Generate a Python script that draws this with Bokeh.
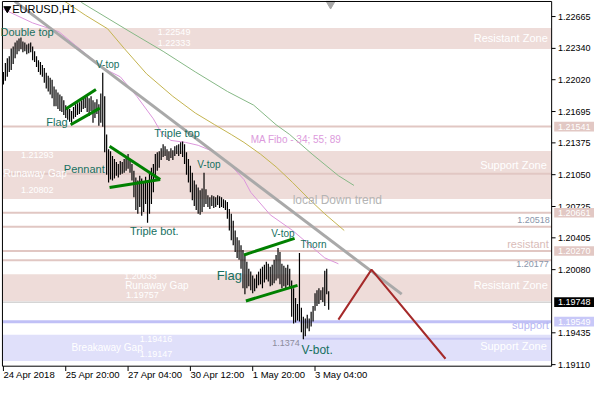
from bokeh.plotting import figure
from bokeh.models import Range1d, Label
from bokeh.core.properties import value
from bokeh.embed import file_html
from bokeh.resources import INLINE

# ---------------- data ----------------
highs = [1.2210, 1.2219, 1.2224, 1.2226, 1.2234, 1.2236, 1.2240, 1.2242, 1.2244, 1.2245,
         1.2241, 1.2240, 1.2238, 1.2239, 1.2240, 1.2236, 1.2231, 1.2226, 1.2222, 1.2220,
         1.2217, 1.2214, 1.2209, 1.2206, 1.2204, 1.2202, 1.2195, 1.2192, 1.2189, 1.2187,
         1.2185, 1.2181, 1.2176, 1.2174, 1.2172, 1.2170, 1.2174, 1.2177, 1.2178, 1.2179,
         1.2181, 1.2183, 1.2184, 1.2185, 1.2183, 1.2185, 1.2181, 1.2179, 1.2182, 1.2177,
         1.2188, 1.2209, 1.2185, 1.2146, 1.2131, 1.2129, 1.2124, 1.2121, 1.2118, 1.2116,
         1.2119, 1.2118, 1.2121, 1.2124, 1.2126, 1.2121, 1.2116, 1.2109, 1.2102, 1.2099,
         1.2104, 1.2101, 1.2097, 1.2103, 1.2099, 1.2107, 1.2112, 1.2116, 1.2126, 1.2128,
         1.2129, 1.2132, 1.2136, 1.2134, 1.2131, 1.2129, 1.2132, 1.2130, 1.2134, 1.2135,
         1.2136, 1.2138, 1.2139, 1.2136, 1.2128, 1.2121, 1.2114, 1.2107, 1.2099, 1.2095,
         1.2092, 1.2089, 1.2091, 1.2107, 1.2090, 1.2084, 1.2082, 1.2084, 1.2083, 1.2082,
         1.2084, 1.2083, 1.2082, 1.2080, 1.2079, 1.2077, 1.2070, 1.2065, 1.2058, 1.2048,
         1.2041, 1.2038, 1.2033, 1.2028, 1.2023, 1.2016, 1.2009, 1.2006, 1.2002, 1.1999,
         1.2003, 1.2006, 1.2009, 1.2011, 1.2013, 1.2016, 1.2014, 1.2011, 1.2013, 1.2018,
         1.2023, 1.2030, 1.2026, 1.2014, 1.2012, 1.2010, 1.2013, 1.2009, 1.1997, 1.1989,
         1.1979, 1.1973, 1.2025, 1.1969, 1.1960, 1.1958, 1.1962, 1.1958, 1.1965, 1.1971,
         1.1984, 1.1987, 1.1989, 1.1987, 1.1990, 1.2007, 1.2009, 1.1986]
lows = [1.2197, 1.2201, 1.2205, 1.2210, 1.2212, 1.2218, 1.2224, 1.2228, 1.2231, 1.2233,
        1.2230, 1.2231, 1.2228, 1.2229, 1.2230, 1.2222, 1.2220, 1.2215, 1.2210, 1.2207,
        1.2205, 1.2199, 1.2193, 1.2190, 1.2187, 1.2183, 1.2175, 1.2175, 1.2172, 1.2170,
        1.2169, 1.2166, 1.2163, 1.2161, 1.2159, 1.2158, 1.2162, 1.2164, 1.2166, 1.2167,
        1.2169, 1.2172, 1.2173, 1.2169, 1.2165, 1.2170, 1.2158, 1.2163, 1.2167, 1.2155,
        1.2158, 1.2154, 1.2128, 1.2105, 1.2097, 1.2100, 1.2099, 1.2101, 1.2104, 1.2102,
        1.2105, 1.2106, 1.2107, 1.2109, 1.2111, 1.2107, 1.2099, 1.2082, 1.2069, 1.2065,
        1.2072, 1.2063, 1.2067, 1.2075, 1.2056, 1.2065, 1.2075, 1.2087, 1.2101, 1.2109,
        1.2112, 1.2120, 1.2123, 1.2124, 1.2120, 1.2119, 1.2122, 1.2120, 1.2124, 1.2126,
        1.2124, 1.2126, 1.2123, 1.2116, 1.2105, 1.2097, 1.2087, 1.2079, 1.2073, 1.2069,
        1.2065, 1.2064, 1.2067, 1.2072, 1.2075, 1.2072, 1.2070, 1.2073, 1.2071, 1.2072,
        1.2074, 1.2071, 1.2072, 1.2071, 1.2069, 1.2060, 1.2048, 1.2038, 1.2033, 1.2026,
        1.2020, 1.2018, 1.2009, 1.1989, 1.1983, 1.1989, 1.1991, 1.1987, 1.1984, 1.1986,
        1.1989, 1.1992, 1.1993, 1.1989, 1.1995, 1.1998, 1.1996, 1.1991, 1.1992, 1.1994,
        1.1997, 1.1999, 1.1993, 1.1989, 1.1991, 1.1989, 1.1992, 1.1989, 1.1960, 1.1953,
        1.1954, 1.1956, 1.1955, 1.1944, 1.1937, 1.1940, 1.1948, 1.1945, 1.1950, 1.1955,
        1.1966, 1.1971, 1.1973, 1.1977, 1.1975, 1.1971, 1.1983, 1.1967]
bar_index = list(range(len(highs)))

time_tick_index = [0, 32, 64, 96, 128, 160]
time_tick_labels = ["24 Apr 2018", "25 Apr 20:00", "27 Apr 04:00",
                    "30 Apr 12:00", "1 May 20:00", "3 May 04:00"]
price_ticks = [1.22665, 1.22340, 1.22020, 1.21695, 1.21375, 1.21050,
               1.20725, 1.20405, 1.20080, 1.19435, 1.19110]

# moving averages (MA Fibo 34 / 55 / 89), read as points
ma34_x = [0, 15, 28.5, 37, 45, 51, 60, 68.5, 77, 81, 86, 93.5, 100, 108.5, 117, 123.5, 127, 137, 148.5, 165, 172]
ma34_y = [1.2274, 1.2260, 1.2251, 1.2237, 1.2224, 1.2214, 1.2205, 1.2185, 1.2162, 1.2148, 1.2140,
          1.2138, 1.2135, 1.2128, 1.2114, 1.2100, 1.2087, 1.2064, 1.2048, 1.2020, 1.2014]
ma55_x = [31.5, 42, 53.5, 62, 73.5, 87, 98.5, 108.5, 117, 123.5, 132, 140, 148.5, 157, 165, 175]
ma55_y = [1.2282, 1.2268, 1.2254, 1.2234, 1.2208, 1.2185, 1.2168, 1.2156, 1.2146, 1.2138,
          1.2126, 1.2113, 1.2097, 1.2080, 1.2065, 1.2048]
ma89_x = [40, 65, 82, 98.5, 115, 128.5, 140, 147, 158.5, 172, 180]
ma89_y = [1.2281, 1.2251, 1.2231, 1.2210, 1.2190, 1.2176, 1.2156, 1.2146, 1.2126, 1.2104, 1.2094]

trend_x = [5.9, 204.5]
trend_y = [1.2282, 1.1983]
proj_x = [172, 189, 227]
proj_y = [1.1957, 1.2008, 1.1917]

# pattern lines (flag, pennant, flag)
pat_x0 = [32, 34.5, 54.5, 54.5, 123.5, 124.5]
pat_y0 = [1.2172, 1.2156, 1.2134, 1.2092, 1.2023, 1.1976]
pat_x1 = [47.5, 49.5, 80.5, 80.5, 149.5, 151]
pat_y1 = [1.2192, 1.2173, 1.2100, 1.2100, 1.2040, 1.1992]

zone_bottom = [1.22333, 1.20802, 1.19757, 1.19147]
zone_top = [1.22549, 1.21293, 1.20033, 1.19416]
zone_kind = ["res", "res", "res", "sup"]

pink_levels = [1.21541, 1.21060, 1.20661, 1.20518, 1.20270, 1.20177]
support_level = 1.19549
current_price = 1.19748
vbot_level = 1.19374

box_prices = [1.21541, 1.20661, 1.20270, 1.19748, 1.19549]
box_colors = ["#e2c8c4", "#e2c8c4", "#e2c8c4", "black", "#c8c8f8"]

PINK_BAND = "#eedcd9"
PINK_LINE = "#e1c7c3"
LAV_BAND = "#e0e0fa"
LAV_LINE = "#c0c0f6"
TXT = "#17705f"
FONT = "Liberation Sans"
AXFONT = "9px"

# chart frame (in data units) and full canvas range
FL, FR = -0.5, 281.5
FT, FB = 1.22819, 1.19094
PX = 0.00009804  # price per screen pixel of the reference

p = figure(width=594, height=384, output_backend="svg", toolbar_location=None,
           x_range=Range1d(-1.5, 303.5), y_range=Range1d(1.18907, 1.22829),
           x_axis_location=None, y_axis_location=None,
           min_border_left=0, min_border_right=0, min_border_top=0, min_border_bottom=0)
p.grid.visible = False
p.outline_line_color = None
p.background_fill_color = "white"
p.border_fill_color = "white"

# zones
p.quad(left=[FL] * 4, right=[FR] * 4, bottom=zone_bottom, top=zone_top,
       fill_color=[PINK_BAND if k == "res" else LAV_BAND for k in zone_kind], line_color=None)

p.segment(x0=[FL] * len(pink_levels), y0=pink_levels, x1=[FR] * len(pink_levels), y1=pink_levels,
          line_color=PINK_LINE, line_width=2)
p.segment(x0=[FL], y0=[support_level], x1=[FR], y1=[support_level], line_color=LAV_LINE, line_width=3)
p.segment(x0=[154], y0=[vbot_level], x1=[FR], y1=[vbot_level], line_color="#c8c8f4", line_width=2)
p.segment(x0=[FL], y0=[current_price], x1=[FR], y1=[current_price], line_color="#c0c0c0", line_width=1)

# moving averages
p.line(ma89_x, ma89_y, line_color="#86b886", line_width=1)
p.line(ma55_x, ma55_y, line_color="#c4b450", line_width=1)
p.line(ma34_x, ma34_y, line_color="#dc96dc", line_width=1)

# trend line
p.line(trend_x, trend_y, line_color="#a9a9a9", line_width=3)

# bars
p.segment(x0=bar_index, y0=lows, x1=bar_index, y1=highs, line_color="black", line_width=1.2)

# patterns
p.segment(x0=pat_x0, y0=pat_y0, x1=pat_x1, y1=pat_y1, line_color="#008000", line_width=3)

# projection
p.line(proj_x, proj_y, line_color="#a52a2a", line_width=2)

# markers
p.scatter([2], [1.22745], marker="inverted_triangle", size=7, fill_color="black", line_color="black")
p.scatter([168], [1.22795], marker="inverted_triangle", size=9, fill_color="#a8a8a8", line_color="#a8a8a8")

# frame
p.line([FL, FR, FR, FL, FL], [FT, FT, FB, FB, FT], line_color="black", line_width=1)

# price axis (right)
p.segment(x0=[FR] * len(price_ticks), y0=price_ticks, x1=[FR + 2] * len(price_ticks), y1=price_ticks,
          line_color="black", line_width=1)
p.text(x=[FR + 3.3] * len(price_ticks), y=price_ticks, text=["%.5f" % v for v in price_ticks],
       text_font=value(FONT), text_font_size=AXFONT, text_color="black", text_baseline="middle")

# price boxes
half = 5 * PX
p.quad(left=[FR + 1.3] * len(box_prices), right=[303.5] * len(box_prices),
       bottom=[v - half for v in box_prices], top=[v + half for v in box_prices],
       fill_color=box_colors, line_color=None)
p.text(x=[FR + 3.3] * len(box_prices), y=box_prices, text=["%.5f" % v for v in box_prices],
       text_font=value(FONT), text_font_size=AXFONT, text_color="white", text_baseline="middle")

# time axis (bottom)
p.segment(x0=time_tick_index, y0=[FB] * len(time_tick_index), x1=time_tick_index,
          y1=[FB - 5 * PX] * len(time_tick_index), line_color="black", line_width=1)
p.text(x=time_tick_index, y=[FB - 9 * PX] * len(time_tick_index), text=time_tick_labels,
       text_font=value(FONT), text_font_size="9.5px", text_color="black", text_baseline="middle")


def lab(x, y, text, color=TXT, size="11px", align="left"):
    p.add_layout(Label(x=x, y=y, text=text, text_color=color, text_font=FONT,
                       text_font_size=size, text_align=align, text_baseline="middle"))


lab(4.5, 1.2274, "EURUSD,H1", color="black", size="11px")

# pattern names
lab(-1.5, 1.2251, "Double top", size="11px")
lab(47.5, 1.2218, "V-top", size="10px")
lab(22, 1.2159, "Flag", size="11px")
lab(31, 1.2111, "Pennant", size="11px")
lab(77.5, 1.2148, "Triple top", size="11px")
lab(65, 1.2047, "Triple bot.", size="11px")
lab(99.5, 1.2115, "V-top", size="10px")
lab(137.5, 1.2045, "V-top", size="10px")
lab(152.5, 1.2034, "Thorn", size="10px")
lab(109.5, 1.2002, "Flag", size="13px")
lab(153, 1.1926, "V-bot.", size="12px")

# zone texts
W = "white"
lab(279.5, 1.2245, "Resistant Zone", color=W, size="11px", align="right")
lab(96, 1.2251, "1.22549", color=W, size="9px", align="right")
lab(96, 1.2240, "1.22333", color=W, size="9px", align="right")
lab(279, 1.2115, "Support Zone", color=W, size="11px", align="right")
lab(9, 1.2125, "1.21293", color=W, size="9px")
lab(0, 1.2106, "Runaway Gap", color=W, size="10px")
lab(9, 1.2089, "1.20802", color=W, size="9px")
lab(280.5, 1.2059, "1.20518", color="#8a96aa", size="9px", align="right")
lab(280, 1.2034, "resistant", color="#d9bcb8", size="11px", align="right")
lab(280, 1.2014, "1.20177", color="#8a96aa", size="9px", align="right")
lab(62, 1.2002, "1.20033", color=W, size="9px")
lab(62.5, 1.1992, "Runaway Gap", color=W, size="10px")
lab(63, 1.1982, "1.19757", color=W, size="9px")
lab(279.5, 1.1992, "Resistant Zone", color=W, size="11px", align="right")
lab(280, 1.1951, "support", color="#b6b6f2", size="11px", align="right")
lab(279, 1.1930, "Support Zone", color=W, size="11px", align="right")
lab(35, 1.1929, "Breakaway Gap", color=W, size="10px")
lab(70, 1.1937, "1.19416", color=W, size="9px")
lab(70, 1.1922, "1.19147", color=W, size="9px")
lab(138, 1.1933, "1.1374", color="#8c8c9c", size="9px")
lab(148.5, 1.2079, "local Down trend", color="#b4b4b4", size="12px")
lab(127, 1.2141, "MA Fibo - 34; 55; 89", color="#dc9adc", size="10px")

open("out.html", "w").write(file_html(p, INLINE))
